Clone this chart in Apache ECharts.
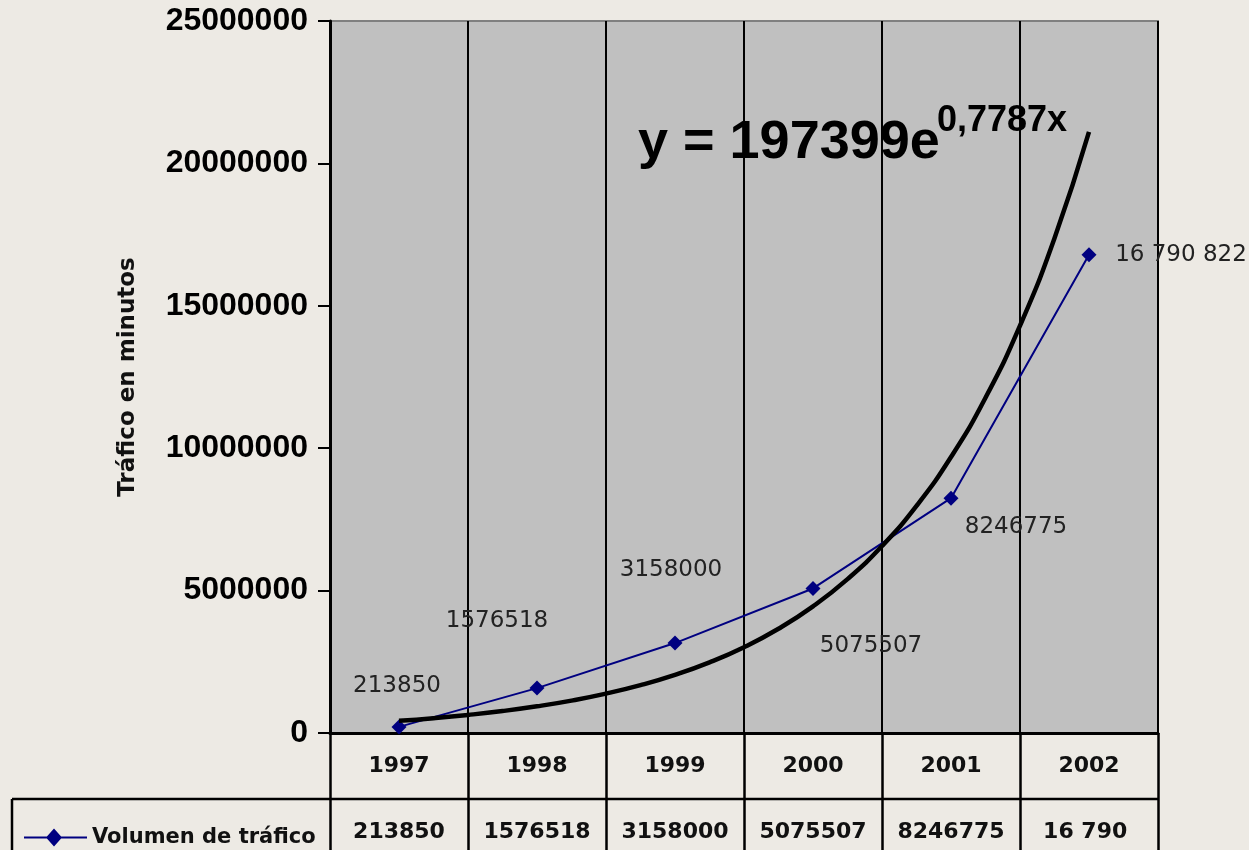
<!DOCTYPE html>
<html>
<head>
<meta charset="utf-8">
<script src="https://cdn.jsdelivr.net/npm/echarts@6/dist/echarts.min.js"></script>
<style>
html,body{margin:0;padding:0;background:#EDEAE4;}
#chart{width:1249px;height:850px;}
</style>
</head>
<body>
<div id="chart"></div>
<script>
// ---- data ----
const years = ['1997', '1998', '1999', '2000', '2001', '2002'];
const traffic = [213850, 1576518, 3158000, 5075507, 8246775, 16790822];
const pointLabels = ['213850', '1576518', '3158000', '5075507', '8246775', '16 790 822'];
const seriesName = 'Volumen de tráfico';
const yAxisTitle = 'Tráfico en minutos';
const equationMain = 'y = 197399e';
const equationExp = '0,7787x';
// trend line (exponential fit) read at quarter steps of the year index 1..6
const trendX = [1, 1.25, 1.5, 1.75, 2, 2.25, 2.5, 2.75, 3, 3.25, 3.5, 3.75, 4, 4.25, 4.5, 4.75, 5, 5.25, 5.5, 5.75, 6];
const trendY = [430000, 522000, 635000, 771000, 937000, 1138000, 1383000, 1680000, 2041000, 2480000, 3013000, 3661000, 4447000, 5403000, 6564000, 7975000, 9690000, 11772000, 14302000, 17376000, 21110000];

// ---- chart ----
const chart = echarts.init(document.getElementById('chart'));
const labelOffsets = [[-2, -41], [-40, -67], [-4, -73], [58, 58], [65, 29], [92, 0]];
const txtFont = 'DejaVu Sans';
const legendIcon = 'path://M0,8 L63,8 L63,10 L0,10 Z M30,0 L38,9 L30,18 L22,9 Z';

const option = {
  backgroundColor: '#EDEAE4',
  animation: false,
  grid: {
    left: 330, right: 91, top: 21, bottom: 117,
    containLabel: false, outerBoundsMode: 'none',
    show: true, backgroundColor: '#C0C0C0', borderColor: '#808080', borderWidth: 2
  },
  legend: {
    data: [{ name: seriesName, icon: legendIcon }],
    left: 19, top: 822,
    itemWidth: 63, itemHeight: 18, itemGap: 6,
    itemStyle: { color: '#000080' },
    textStyle: { fontFamily: txtFont, fontWeight: 'bold', fontSize: 21, color: '#111' }
  },
  xAxis: [
    {
      type: 'category', data: years, position: 'bottom',
      axisLine: { show: true, lineStyle: { color: '#000', width: 3 } },
      axisTick: { show: true, interval: 0, length: 117, lineStyle: { color: '#000', width: 2.5 } },
      axisLabel: { interval: 0, margin: 18, lineHeight: 30, fontFamily: txtFont, fontWeight: 'bold', fontSize: 22, color: '#111' },
      splitLine: { show: true, interval: 0, lineStyle: { color: '#000', width: 2 } }
    },
    {
      type: 'category', data: pointLabels, position: 'bottom',
      axisLine: { show: false }, axisTick: { show: false }, splitLine: { show: false },
      axisLabel: { interval: 0, margin: 84, lineHeight: 30, width: 120, overflow: 'break', fontFamily: txtFont, fontWeight: 'bold', fontSize: 22, color: '#111' }
    },
    { type: 'value', min: 0.5, max: 6.5, show: false }
  ],
  yAxis: {
    type: 'value', min: 0, max: 25000000, interval: 5000000,
    name: yAxisTitle, nameLocation: 'middle', nameRotate: 90, nameGap: 190,
    nameTextStyle: { fontFamily: txtFont, fontWeight: 'bold', fontSize: 23, color: '#111' },
    axisLine: { show: true, onZero: false, lineStyle: { color: '#000', width: 3 } },
    axisTick: { show: true, length: 12, lineStyle: { color: '#000', width: 2 } },
    axisLabel: { margin: 22, formatter: v => String(v), fontFamily: 'Liberation Sans', fontWeight: 'bold', fontSize: 32, color: '#000' },
    splitLine: { show: false }
  },
  series: [
    {
      name: seriesName, type: 'line', xAxisIndex: 0, yAxisIndex: 0,
      data: traffic.map((v, i) => ({
        value: v,
        label: { show: true, position: 'inside', offset: labelOffsets[i], formatter: pointLabels[i] }
      })),
      symbol: 'diamond', symbolSize: 15,
      itemStyle: { color: '#000080' },
      lineStyle: { color: '#000080', width: 2 },
      label: { fontFamily: txtFont, fontSize: 23, color: '#222' },
      z: 3
    },
    {
      name: 'trend', type: 'line', xAxisIndex: 2, yAxisIndex: 0,
      data: trendX.map((x, i) => [x, trendY[i]]),
      smooth: true, showSymbol: false, symbol: 'none',
      lineStyle: { color: '#000', width: 4.5 },
      z: 4
    }
  ],
  graphic: [
    { type: 'text', left: 638, top: 116, z: 10,
      style: { text: equationMain, fontFamily: 'Liberation Sans', fontWeight: 'bold', fontSize: 54, fill: '#000' } },
    { type: 'text', left: 937, top: 103, z: 10,
      style: { text: equationExp, fontFamily: 'Liberation Sans', fontWeight: 'bold', fontSize: 36, fill: '#000' } },
    { type: 'line', z: 10, shape: { x1: 12, y1: 799, x2: 1158, y2: 799 }, style: { stroke: '#000', lineWidth: 2.5 } },
    { type: 'line', z: 10, shape: { x1: 12, y1: 799, x2: 12, y2: 850 }, style: { stroke: '#000', lineWidth: 2.5 } }
  ]
};
chart.setOption(option);
</script>
</body>
</html>
